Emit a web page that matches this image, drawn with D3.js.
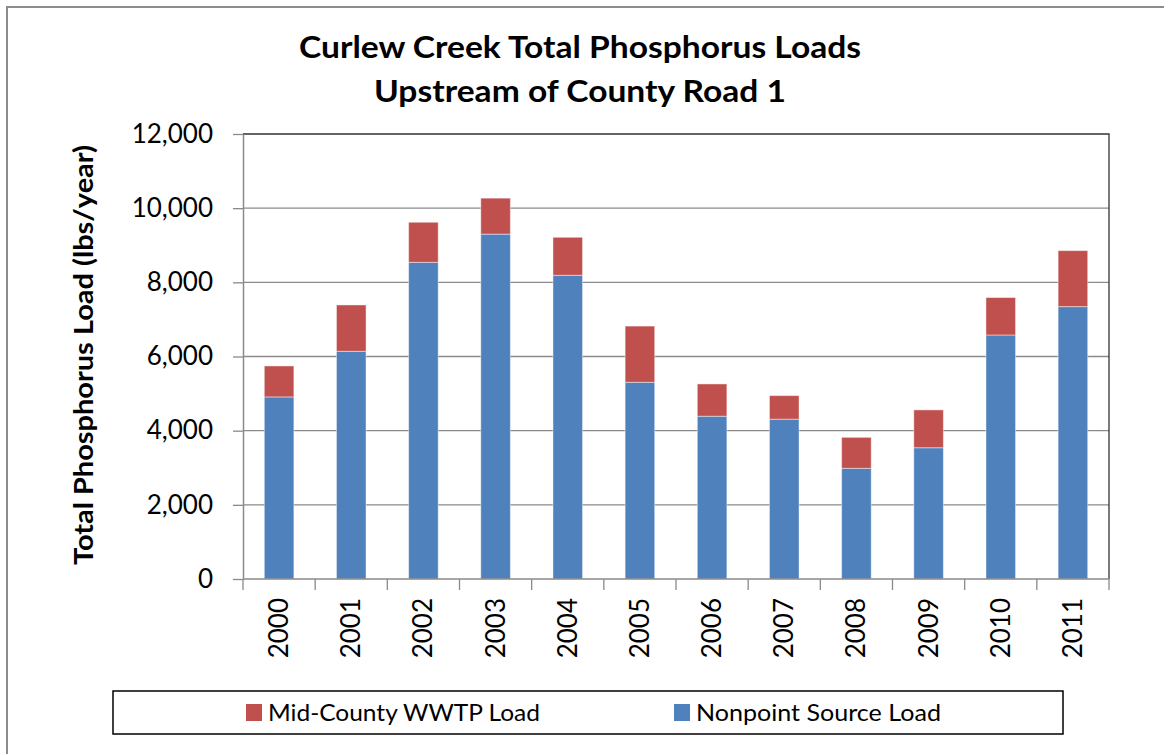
<!DOCTYPE html>
<html>
<head>
<meta charset="utf-8">
<script src="https://cdn.jsdelivr.net/npm/d3@7"></script>
<style>
  body { margin: 0; background: #fff; }
  text { font-family: Lato, "Open Sans", sans-serif; fill: #000; }
</style>
</head>
<body>
<svg width="1164" height="754"></svg>
<script>
const years = ["2000", "2001", "2002", "2003", "2004", "2005", "2006", "2007", "2008", "2009", "2010", "2011"];
const nonpoint = [4910, 6140, 8540, 9300, 8190, 5305, 4390, 4310, 2985, 3540, 6580, 7345];
const wwtp = [835, 1250, 1080, 970, 1025, 1515, 870, 635, 835, 1020, 1010, 1510];
const yTicks = [0, 2000, 4000, 6000, 8000, 10000, 12000];
const seriesNames = ["Mid-County WWTP Load", "Nonpoint Source Load"];
const colors = { wwtp: "#C0504D", nonpoint: "#4F81BD" };

const svg = d3.select("svg");
const margin = { left: 243, right: 1109, top: 134, bottom: 579 };

// outer chart frame
svg.append("rect")
    .attr("x", 7).attr("y", 7)
    .attr("width", 1164).attr("height", 760)
    .attr("fill", "none")
    .attr("stroke", "#8c8c8c")
    .attr("stroke-width", 2);

const x = d3.scaleBand()
    .domain(years)
    .range([margin.left, margin.right])
    .paddingInner(0.59)
    .paddingOuter(0.295);

const y = d3.scaleLinear()
    .domain([0, 12000])
    .range([margin.bottom, margin.top]);

// gridlines
svg.append("g")
    .selectAll("line")
    .data(yTicks.filter(t => t > 0 && t < 12000))
    .join("line")
    .attr("x1", margin.left).attr("x2", margin.right)
    .attr("y1", d => y(d)).attr("y2", d => y(d))
    .attr("stroke", "#8a8a8a")
    .attr("stroke-width", 1.3);

// plot area top / right edges
svg.append("path")
    .attr("d", `M${margin.left},${margin.top}H${margin.right}V${margin.bottom}`)
    .attr("fill", "none")
    .attr("stroke", "#333")
    .attr("stroke-width", 1.3);

const data = years.map((yr, i) => ({ year: yr, nonpoint: nonpoint[i], wwtp: wwtp[i] }));
const stacked = d3.stack().keys(["nonpoint", "wwtp"])(data);

svg.append("g")
    .selectAll("g")
    .data(stacked)
    .join("g")
    .attr("fill", s => colors[s.key])
    .selectAll("rect")
    .data(s => s)
    .join("rect")
    .attr("x", d => x(d.data.year))
    .attr("width", x.bandwidth())
    .attr("y", d => y(d[1]))
    .attr("height", d => y(d[0]) - y(d[1]))
    .attr("stroke", "rgba(255,255,255,0.45)")
    .attr("stroke-width", 1);

// y axis
const yAxis = svg.append("g")
    .attr("transform", `translate(${margin.left},0)`)
    .call(d3.axisLeft(y).tickValues(yTicks).tickSize(10).tickSizeOuter(0).tickFormat(d3.format(",")));
yAxis.select(".domain").attr("stroke", "#8a8a8a").attr("stroke-width", 1.5);
yAxis.selectAll(".tick line").attr("stroke", "#8a8a8a").attr("stroke-width", 1.3);
yAxis.selectAll(".tick text")
    .attr("x", -30)
    .attr("font-size", 26)
    .attr("font-family", "Lato, sans-serif")
    .attr("fill", "#000");

// x axis with ticks at category boundaries
const xAxis = svg.append("g")
    .attr("transform", `translate(0,${margin.bottom})`);
xAxis.append("line")
    .attr("x1", margin.left).attr("x2", margin.right)
    .attr("stroke", "#8a8a8a").attr("stroke-width", 1.5);
const step = x.step();
xAxis.selectAll("line.tk")
    .data(d3.range(years.length + 1))
    .join("line")
    .attr("class", "tk")
    .attr("x1", i => margin.left + i * step)
    .attr("x2", i => margin.left + i * step)
    .attr("y1", 0).attr("y2", 11)
    .attr("stroke", "#8a8a8a").attr("stroke-width", 1.3);
xAxis.selectAll("text")
    .data(years)
    .join("text")
    .attr("transform", d => `translate(${x(d) + x.bandwidth() / 2 + 9},${19}) rotate(-90)`)
    .attr("text-anchor", "end")
    .attr("font-size", 26)
    .text(d => d);

// title
const title = svg.append("text")
    .attr("text-anchor", "middle")
    .attr("font-size", 30)
    .attr("font-weight", "bold");
title.append("tspan").attr("x", 580).attr("y", 58)
    .attr("textLength", 562).attr("lengthAdjust", "spacingAndGlyphs")
    .text("Curlew Creek Total Phosphorus  Loads");
title.append("tspan").attr("x", 580).attr("y", 102)
    .attr("textLength", 412).attr("lengthAdjust", "spacingAndGlyphs")
    .text("Upstream of County Road 1");

// y axis title
svg.append("text")
    .attr("transform", `translate(93,${355}) rotate(-90)`)
    .attr("text-anchor", "middle")
    .attr("font-size", 27)
    .attr("font-weight", "bold")
    .attr("textLength", 420).attr("lengthAdjust", "spacingAndGlyphs")
    .text("Total Phosphorus Load (lbs/year)");

// legend
const legend = svg.append("g");
legend.append("rect")
    .attr("x", 113).attr("y", 691)
    .attr("width", 950).attr("height", 43)
    .attr("fill", "#fff")
    .attr("stroke", "#000")
    .attr("stroke-width", 1.5);
const legendX = [246, 674];
const legendLen = [272, 245];
const legendItems = legend.selectAll("g.item")
    .data(seriesNames)
    .join("g")
    .attr("class", "item")
    .attr("transform", (d, i) => `translate(${legendX[i]},0)`);
legendItems.append("rect")
    .attr("x", 0).attr("y", 704)
    .attr("width", 16).attr("height", 17)
    .attr("fill", (d, i) => i === 0 ? colors.wwtp : colors.nonpoint);
legendItems.append("text")
    .attr("x", 22).attr("y", 721)
    .attr("font-size", 24)
    .attr("textLength", (d, i) => legendLen[i]).attr("lengthAdjust", "spacingAndGlyphs")
    .text(d => d);
</script>
</body>
</html>
